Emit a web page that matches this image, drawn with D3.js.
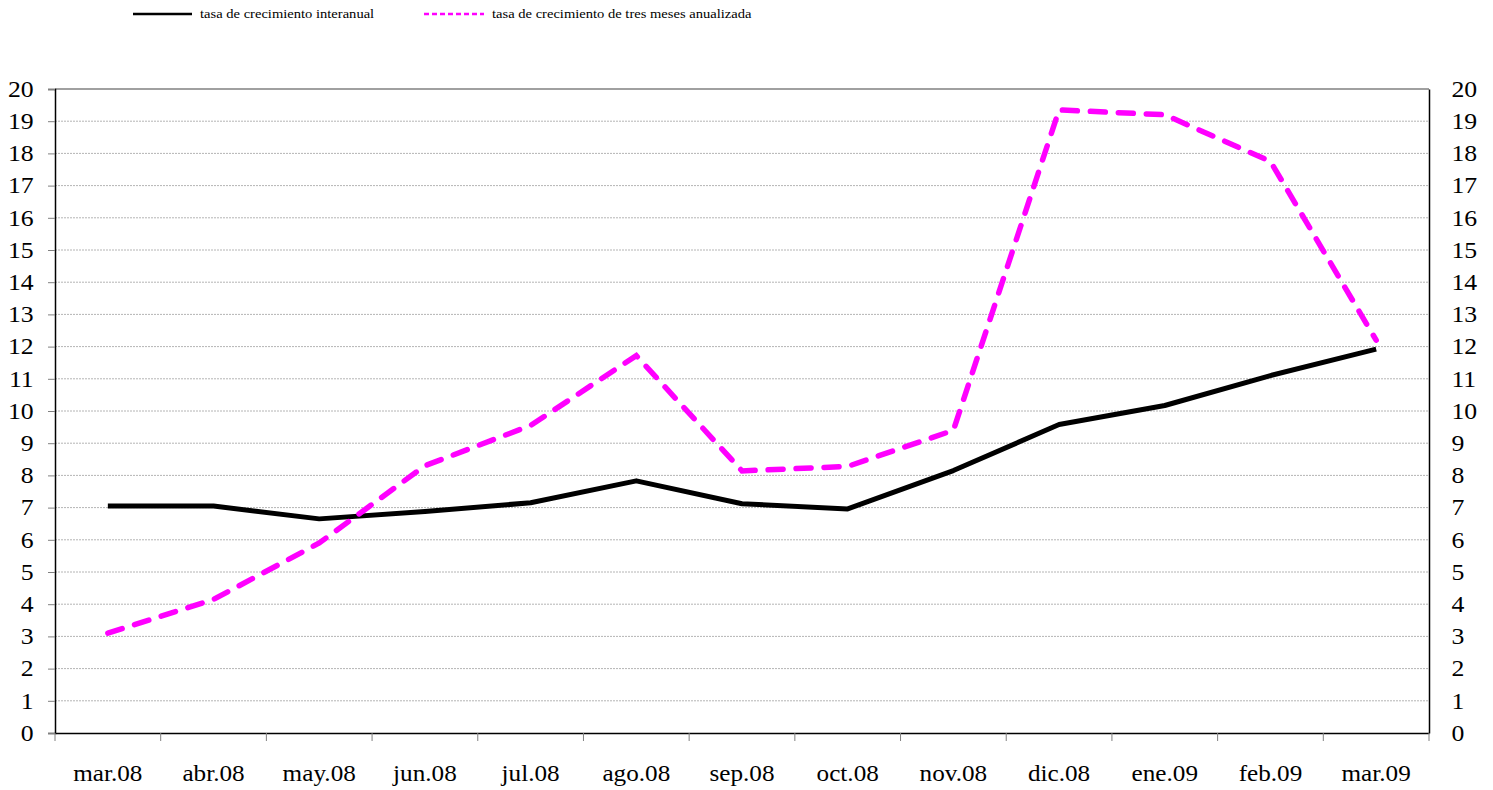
<!DOCTYPE html>
<html>
<head>
<meta charset="utf-8">
<script src="https://cdn.jsdelivr.net/npm/d3@7"></script>
<style>
  body { margin: 0; background: #fff; }
</style>
</head>
<body>
<script>
// datos
const meses = ["mar.08", "abr.08", "may.08", "jun.08", "jul.08", "ago.08", "sep.08",
               "oct.08", "nov.08", "dic.08", "ene.09", "feb.09", "mar.09"];
const interanual = [7.05, 7.05, 6.65, 6.88, 7.15, 7.83, 7.12, 6.96, 8.15, 9.58, 10.17, 11.1, 11.92];
const tresMeses = [3.1, 4.15, 5.9, 8.3, 9.55, 11.72, 8.14, 8.28, 9.4, 19.35, 19.2, 17.75, 12.2];
const yTicks = d3.range(0, 21);

const W = 1493, H = 790;
const m = { top: 89, right: 64, bottom: 57, left: 55 };
const fuente = "'Liberation Serif', 'Times New Roman', serif";
const estira = "scale(1.12,1)"; // el original esta algo ensanchado

const svg = d3.select("body").append("svg").attr("width", W).attr("height", H);

const x = d3.scaleBand().domain(meses).range([m.left, W - m.right]);
const y = d3.scaleLinear().domain([0, 20]).range([H - m.bottom, m.top]);

// rejilla
svg.append("g")
    .selectAll("line")
    .data(yTicks.slice(1))
    .join("line")
    .attr("x1", m.left).attr("x2", W - m.right)
    .attr("y1", d => y(d)).attr("y2", d => y(d))
    .attr("stroke", d => d === 20 ? "#808080" : "#b4b4b4")
    .attr("stroke-width", d => d === 20 ? 1.5 : 1)
    .attr("stroke-dasharray", d => d === 20 ? null : "2,1");

// eje izquierdo
const yl = svg.append("g")
    .attr("transform", `translate(${m.left},0)`)
    .call(d3.axisLeft(y).tickValues(yTicks).tickSize(7).tickPadding(12));
yl.select(".domain").attr("stroke", "#000").attr("stroke-width", 1.5);
yl.selectAll(".tick line").attr("stroke", "#808080");
yl.selectAll("text").attr("font-size", 23).attr("font-family", fuente).attr("transform", estira);

// eje derecho
const yr = svg.append("g")
    .attr("transform", `translate(${W - m.right},0)`)
    .call(d3.axisRight(y).tickValues(yTicks).tickSize(0).tickPadding(20));
yr.select(".domain").attr("stroke", "#000").attr("stroke-width", 1.5);
yr.selectAll("text").attr("font-size", 23).attr("font-family", fuente).attr("transform", estira);

// eje x
const xa = svg.append("g")
    .attr("transform", `translate(0,${H - m.bottom})`)
    .call(d3.axisBottom(x).tickSize(0).tickPadding(32));
xa.select(".domain").attr("stroke", "#000").attr("stroke-width", 1.5);
xa.selectAll("text").attr("font-size", 22.5).attr("font-family", fuente).attr("transform", estira);
xa.selectAll("line.sep")
    .data(meses.map(d => x(d)).concat([W - m.right]))
    .join("line")
    .attr("class", "sep")
    .attr("x1", d => d).attr("x2", d => d)
    .attr("y1", 0).attr("y2", 8)
    .attr("stroke", "#808080");

const cx = d => x(d) + x.bandwidth() / 2;

const linea = d3.line()
    .x((d, i) => cx(meses[i]))
    .y(d => y(d));

svg.append("path")
    .datum(interanual)
    .attr("d", linea)
    .attr("fill", "none")
    .attr("stroke", "#000")
    .attr("stroke-width", 5)
    .attr("stroke-linejoin", "round");

svg.append("path")
    .datum(tresMeses)
    .attr("d", linea)
    .attr("fill", "none")
    .attr("stroke", "#ff00ff")
    .attr("stroke-width", 5.5)
    .attr("stroke-linecap", "round")
    .attr("stroke-dasharray", "15,13");

// leyenda
const ley = svg.append("g").attr("font-family", fuente);
ley.append("line")
    .attr("x1", 133).attr("x2", 192).attr("y1", 14).attr("y2", 14)
    .attr("stroke", "#000").attr("stroke-width", 2.5);
ley.append("text")
    .attr("transform", "translate(200,18) " + estira)
    .attr("font-size", 13)
    .text("tasa de crecimiento interanual");
ley.append("line")
    .attr("x1", 424).attr("x2", 484).attr("y1", 14).attr("y2", 14)
    .attr("stroke", "#ff00ff").attr("stroke-width", 2.5)
    .attr("stroke-dasharray", "5,3");
ley.append("text")
    .attr("transform", "translate(492,18) " + estira)
    .attr("font-size", 13)
    .text("tasa de crecimiento de tres meses anualizada");
</script>
</body>
</html>
